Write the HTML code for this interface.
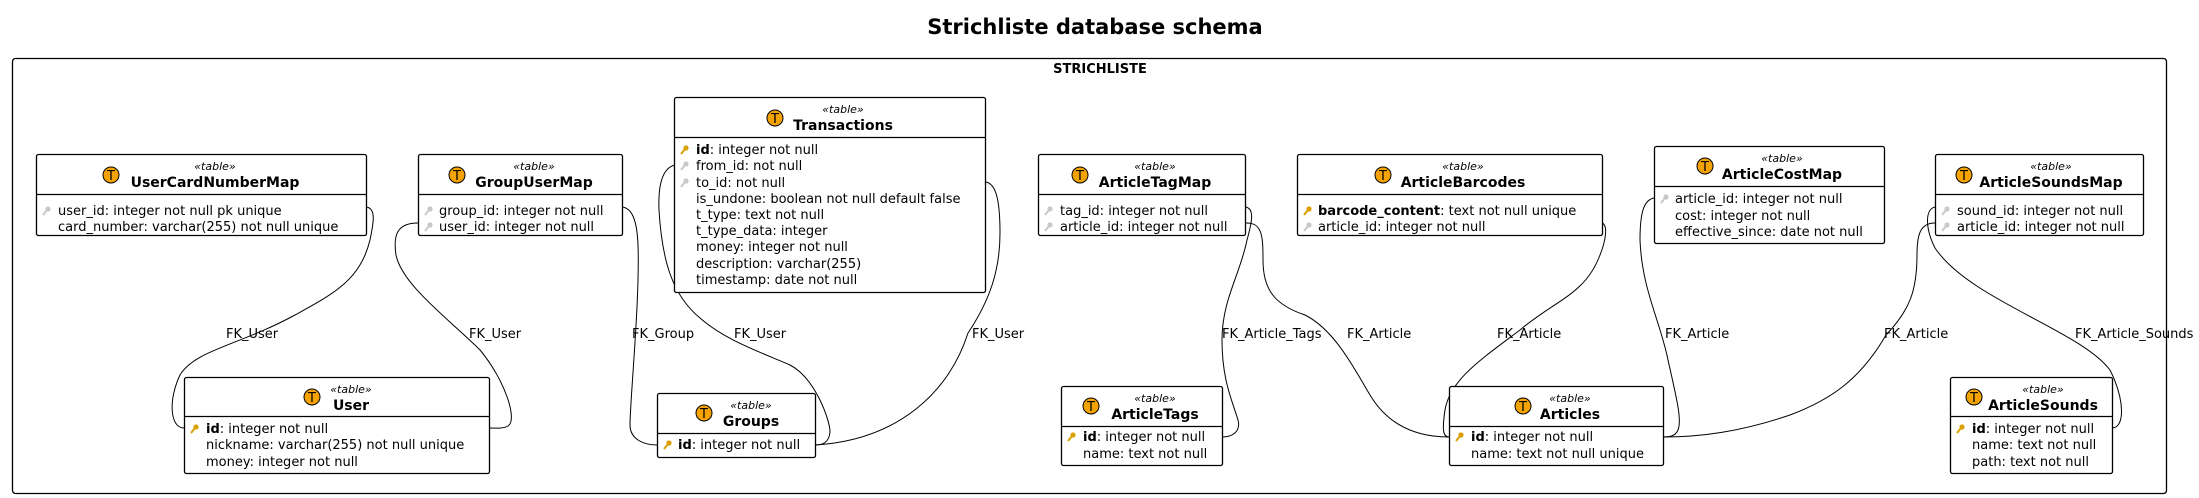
<!DOCTYPE html>
<html><head><meta charset="utf-8"><style>
html,body{margin:0;padding:0;background:#fff;}
svg{display:block;font-family:"DejaVu Sans","Liberation Sans",sans-serif;}
.row{font-size:13px;fill:#000;}
.st{font-size:11px;font-style:italic;}
.nm{font-size:14px;font-weight:bold;}
.lbl{font-size:13px;}
.box{fill:#fff;stroke:#000;stroke-width:1.3;}
.c{fill:none;stroke:#000;stroke-width:1;}
</style></head><body>
<svg width="2199" height="498" viewBox="0 0 2199 498" xmlns="http://www.w3.org/2000/svg">
<defs>
<g id="ic"><circle r="8" fill="#f5a300" stroke="#000" stroke-width="1"/><text y="5" text-anchor="middle" font-size="13" font-family="DejaVu Sans,sans-serif">T</text></g>
<g id="pk"><circle cx="2" cy="-2" r="2.6" fill="#d9a000"/><line x1="1" y1="-1" x2="-3" y2="4" stroke="#d9a000" stroke-width="2"/></g>
<g id="fk"><circle cx="2" cy="-2" r="2.6" fill="#c8c8c8"/><line x1="1" y1="-1" x2="-3" y2="4" stroke="#c8c8c8" stroke-width="2"/></g>
</defs>
<text x="1095" y="34" text-anchor="middle" font-size="21" font-weight="bold">Strichliste database schema</text>
<rect x="12.5" y="58.5" width="2154" height="435" rx="3" fill="none" stroke="#000" stroke-width="1.3"/>
<text x="1100" y="73" text-anchor="middle" font-size="13" font-weight="bold">STRICHLISTE</text>

<!-- connectors -->
<g class="c">
<path class="c" d="M366,207 C377,208 373,225 370,240 C360,280 335,293 295,315 C240,345 195,350 180,375 C168,400 170,428 184,428"/>
<path class="c" d="M418,223 C397,223 393,235 396,255 C402,285 450,320 480,350 C505,380 518,420 508,426 C503,429 495,428 490,428"/>
<path class="c" d="M622,207 C632,208 637,220 638,245 C640,300 630,400 630,425 C630,440 645,445 657,445"/>
<path class="c" d="M675,165 C662,168 658,185 659,210 C662,260 672,295 700,318 C725,340 760,352 790,365 C815,378 830,420 830,432 C829,443 822,445 815,445"/>
<path class="c" d="M986,182 C996,184 1000,200 1000,233 C1000,270 990,300 968,333 C950,390 900,440 815,445"/>
<path class="c" d="M1245,207 C1255,208 1252,222 1247,240 C1240,275 1222,300 1222,340 C1222,380 1232,400 1238,420 C1241,432 1232,437 1222,437"/>
<path class="c" d="M1245,223 C1262,222 1263,235 1263,260 C1263,290 1275,305 1305,315 C1335,330 1355,370 1370,395 C1385,420 1410,437 1449,437"/>
<path class="c" d="M1602,223 C1608,225 1606,240 1600,255 C1585,295 1555,300 1520,330 C1480,360 1450,380 1445,410 C1442,430 1443,437 1449,437"/>
<path class="c" d="M1654,198 C1643,200 1640,215 1640,240 C1642,290 1660,320 1668,360 C1677,400 1682,420 1678,430 C1675,437 1668,437 1663,437"/>
<path class="c" d="M1935,223 C1920,223 1917,235 1917,255 C1917,290 1910,310 1886,335 C1860,380 1830,400 1790,415 C1740,432 1700,437 1663,437"/>
<path class="c" d="M1935,207 C1925,209 1925,228 1935,248 C1970,300 2080,330 2110,370 C2125,400 2125,428 2112,428"/>
</g>
<g class="lbl">
<text x="226" y="338">FK_User</text>
<text x="469" y="338">FK_User</text>
<text x="632" y="338">FK_Group</text>
<text x="734" y="338">FK_User</text>
<text x="972" y="338">FK_User</text>
<text x="1222" y="338">FK_Article_Tags</text>
<text x="1347" y="338">FK_Article</text>
<text x="1497" y="338">FK_Article</text>
<text x="1665" y="338">FK_Article</text>
<text x="1884" y="338">FK_Article</text>
<text x="2075" y="338">FK_Article_Sounds</text>
</g>

<!-- UserCardNumberMap -->
<rect class="box" x="36.5" y="154.5" width="330" height="81" rx="2"/><line x1="36.5" y1="194.5" x2="366.5" y2="194.5" stroke="#000" stroke-width="1.3"/>
<use href="#ic" x="111" y="175"/><text class="st" x="215" y="170" text-anchor="middle">«table»</text><text class="nm" x="215" y="187" text-anchor="middle">UserCardNumberMap</text>
<use href="#fk" x="46" y="211"/><text class="row" x="58" y="215">user_id: integer not null pk unique</text>
<text class="row" x="58" y="231">card_number: varchar(255) not null unique</text>

<!-- GroupUserMap -->
<rect class="box" x="418.5" y="154.5" width="204" height="81" rx="2"/><line x1="418.5" y1="194.5" x2="622.5" y2="194.5" stroke="#000" stroke-width="1.3"/>
<use href="#ic" x="457" y="175"/><text class="st" x="534" y="170" text-anchor="middle">«table»</text><text class="nm" x="534" y="187" text-anchor="middle">GroupUserMap</text>
<use href="#fk" x="428" y="211"/><text class="row" x="439" y="215">group_id: integer not null</text>
<use href="#fk" x="428" y="227"/><text class="row" x="439" y="231">user_id: integer not null</text>

<!-- Transactions -->
<rect class="box" x="674.5" y="97.5" width="311" height="195" rx="2"/><line x1="674.5" y1="137.5" x2="985.5" y2="137.5" stroke="#000" stroke-width="1.3"/>
<use href="#ic" x="775" y="118"/><text class="st" x="843" y="113" text-anchor="middle">«table»</text><text class="nm" x="843" y="130" text-anchor="middle">Transactions</text>
<use href="#pk" x="684" y="150"/><text class="row" x="696" y="154"><tspan font-weight="bold">id</tspan>: integer not null</text>
<use href="#fk" x="684" y="166"/><text class="row" x="696" y="170">from_id: not null</text>
<use href="#fk" x="684" y="183"/><text class="row" x="696" y="187">to_id: not null</text>
<text class="row" x="696" y="203">is_undone: boolean not null default false</text>
<text class="row" x="696" y="219">t_type: text not null</text>
<text class="row" x="696" y="235">t_type_data: integer</text>
<text class="row" x="696" y="251">money: integer not null</text>
<text class="row" x="696" y="268">description: varchar(255)</text>
<text class="row" x="696" y="284">timestamp: date not null</text>

<!-- User -->
<rect class="box" x="184.5" y="377.5" width="305" height="96" rx="2"/><line x1="184.5" y1="416.5" x2="489.5" y2="416.5" stroke="#000" stroke-width="1.3"/>
<use href="#ic" x="312" y="397"/><text class="st" x="351" y="393" text-anchor="middle">«table»</text><text class="nm" x="351" y="410" text-anchor="middle">User</text>
<use href="#pk" x="194" y="429"/><text class="row" x="206" y="433"><tspan font-weight="bold">id</tspan>: integer not null</text>
<text class="row" x="206" y="449">nickname: varchar(255) not null unique</text>
<text class="row" x="206" y="466">money: integer not null</text>

<!-- Groups -->
<rect class="box" x="657.5" y="393.5" width="158" height="64" rx="2"/><line x1="657.5" y1="433.5" x2="815.5" y2="433.5" stroke="#000" stroke-width="1.3"/>
<use href="#ic" x="704" y="413"/><text class="st" x="751" y="409" text-anchor="middle">«table»</text><text class="nm" x="751" y="426" text-anchor="middle">Groups</text>
<use href="#pk" x="667" y="445"/><text class="row" x="678" y="449"><tspan font-weight="bold">id</tspan>: integer not null</text>

<!-- ArticleTagMap -->
<rect class="box" x="1038.5" y="154.5" width="207" height="81" rx="2"/><line x1="1038.5" y1="194.5" x2="1245.5" y2="194.5" stroke="#000" stroke-width="1.3"/>
<use href="#ic" x="1080" y="175"/><text class="st" x="1155" y="170" text-anchor="middle">«table»</text><text class="nm" x="1155" y="187" text-anchor="middle">ArticleTagMap</text>
<use href="#fk" x="1048" y="211"/><text class="row" x="1060" y="215">tag_id: integer not null</text>
<use href="#fk" x="1048" y="227"/><text class="row" x="1060" y="231">article_id: integer not null</text>

<!-- ArticleTags -->
<rect class="box" x="1061.5" y="386.5" width="161" height="79" rx="2"/><line x1="1061.5" y1="426.5" x2="1222.5" y2="426.5" stroke="#000" stroke-width="1.3"/>
<use href="#ic" x="1091" y="406"/><text class="st" x="1155" y="402" text-anchor="middle">«table»</text><text class="nm" x="1155" y="419" text-anchor="middle">ArticleTags</text>
<use href="#pk" x="1071" y="437"/><text class="row" x="1083" y="441"><tspan font-weight="bold">id</tspan>: integer not null</text>
<text class="row" x="1083" y="458">name: text not null</text>

<!-- ArticleBarcodes -->
<rect class="box" x="1297.5" y="154.5" width="305" height="81" rx="2"/><line x1="1297.5" y1="194.5" x2="1602.5" y2="194.5" stroke="#000" stroke-width="1.3"/>
<use href="#ic" x="1383" y="175"/><text class="st" x="1463" y="170" text-anchor="middle">«table»</text><text class="nm" x="1463" y="187" text-anchor="middle">ArticleBarcodes</text>
<use href="#pk" x="1307" y="211"/><text class="row" x="1318" y="215"><tspan font-weight="bold">barcode_content</tspan>: text not null unique</text>
<use href="#fk" x="1307" y="227"/><text class="row" x="1318" y="231">article_id: integer not null</text>

<!-- ArticleCostMap -->
<rect class="box" x="1654.5" y="146.5" width="230" height="97" rx="2"/><line x1="1654.5" y1="186.5" x2="1884.5" y2="186.5" stroke="#000" stroke-width="1.3"/>
<use href="#ic" x="1705" y="166"/><text class="st" x="1782" y="162" text-anchor="middle">«table»</text><text class="nm" x="1782" y="179" text-anchor="middle">ArticleCostMap</text>
<use href="#fk" x="1664" y="199"/><text class="row" x="1675" y="203">article_id: integer not null</text>
<text class="row" x="1675" y="220">cost: integer not null</text>
<text class="row" x="1675" y="236">effective_since: date not null</text>

<!-- ArticleSoundsMap -->
<rect class="box" x="1935.5" y="154.5" width="208" height="81" rx="2"/><line x1="1935.5" y1="194.5" x2="2143.5" y2="194.5" stroke="#000" stroke-width="1.3"/>
<use href="#ic" x="1964" y="175"/><text class="st" x="2051" y="170" text-anchor="middle">«table»</text><text class="nm" x="2051" y="187" text-anchor="middle">ArticleSoundsMap</text>
<use href="#fk" x="1945" y="211"/><text class="row" x="1957" y="215">sound_id: integer not null</text>
<use href="#fk" x="1945" y="227"/><text class="row" x="1957" y="231">article_id: integer not null</text>

<!-- Articles -->
<rect class="box" x="1449.5" y="386.5" width="214" height="79" rx="2"/><line x1="1449.5" y1="426.5" x2="1663.5" y2="426.5" stroke="#000" stroke-width="1.3"/>
<use href="#ic" x="1523" y="406"/><text class="st" x="1570" y="402" text-anchor="middle">«table»</text><text class="nm" x="1570" y="419" text-anchor="middle">Articles</text>
<use href="#pk" x="1459" y="437"/><text class="row" x="1471" y="441"><tspan font-weight="bold">id</tspan>: integer not null</text>
<text class="row" x="1471" y="458">name: text not null unique</text>

<!-- ArticleSounds -->
<rect class="box" x="1950.5" y="377.5" width="162" height="96" rx="2"/><line x1="1950.5" y1="416.5" x2="2112.5" y2="416.5" stroke="#000" stroke-width="1.3"/>
<use href="#ic" x="1974" y="397"/><text class="st" x="2043" y="393" text-anchor="middle">«table»</text><text class="nm" x="2043" y="410" text-anchor="middle">ArticleSounds</text>
<use href="#pk" x="1960" y="429"/><text class="row" x="1972" y="433"><tspan font-weight="bold">id</tspan>: integer not null</text>
<text class="row" x="1972" y="449">name: text not null</text>
<text class="row" x="1972" y="466">path: text not null</text>
</svg>
</body></html>
